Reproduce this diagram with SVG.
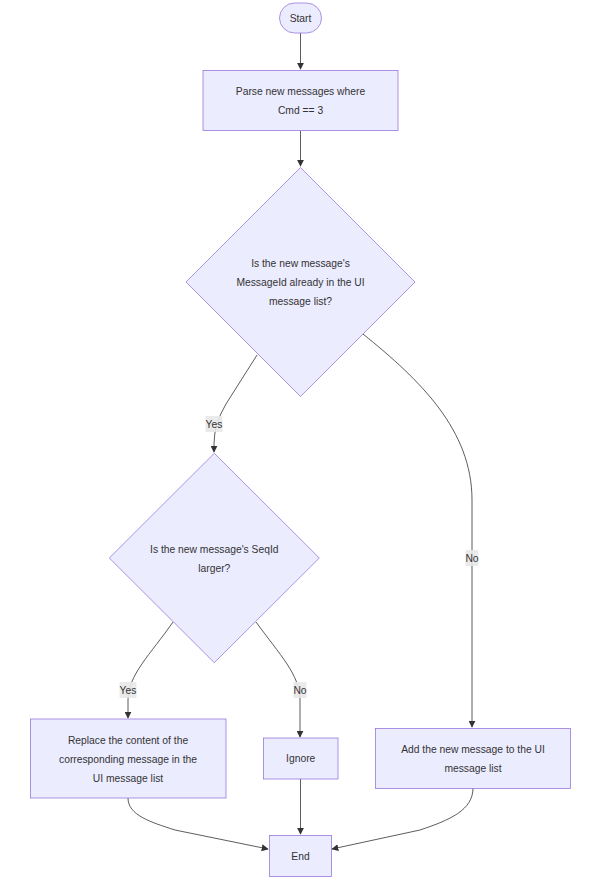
<svg xmlns="http://www.w3.org/2000/svg" width="594" height="893" viewBox="0 0 594 893">
<style>
.n{fill:#ECECFF;stroke:#9370DB;stroke-width:0.75}
.t{font-family:"Liberation Sans",Arial,sans-serif;font-size:10.3px;fill:#333;text-anchor:middle;dominant-baseline:central}
.e{fill:none;stroke:#333;stroke-width:0.8}
.lb{fill:#e8e8e8;opacity:0.9}
</style>
<defs>
<marker id="ah" viewBox="0 0 10 10" refX="9" refY="5" markerWidth="7" markerHeight="7" markerUnits="userSpaceOnUse" orient="auto">
<path d="M0,0 L10,5 L0,10 z" fill="#333"/>
</marker>
</defs>
<rect width="594" height="893" fill="#fff"/>
<g id="edges">
<path class="e" d="M300.5,33 L300.5,69" marker-end="url(#ah)"/>
<path class="e" d="M300.5,131 L300.5,166" marker-end="url(#ah)"/>
<path class="e" d="M257,355 L226,404 Q214,424 214,444 L214,452" marker-end="url(#ah)"/>
<path class="e" d="M363,334 C420,380 472,430 472,500 L472,727" marker-end="url(#ah)"/>
<path class="e" d="M173,622 C150,655 128,675 128,700 L128,718" marker-end="url(#ah)"/>
<path class="e" d="M256,622 C280,655 300,675 300,700 L300,737" marker-end="url(#ah)"/>
<path class="e" d="M300.5,779 L300.5,834" marker-end="url(#ah)"/>
<path class="e" d="M128,798 C128,815 150,822 175,830 L268,849" marker-end="url(#ah)"/>
<path class="e" d="M473,788 C473,810 450,820 420,830 L332,849" marker-end="url(#ah)"/>
</g>
<g id="edge-labels">
<g id="l1"><rect class="lb" x="205.5" y="416" width="17" height="16"/><text class="t" x="214" y="424">Yes</text></g>
<g id="l2"><rect class="lb" x="465.5" y="550" width="13" height="16"/><text class="t" x="472" y="558">No</text></g>
<g id="l3"><rect class="lb" x="119.5" y="682" width="17" height="16"/><text class="t" x="128" y="690">Yes</text></g>
<g id="l4"><rect class="lb" x="293.5" y="682" width="13" height="16"/><text class="t" x="300" y="690">No</text></g>
</g>
<g id="start"><rect class="n" x="279.5" y="3" width="42" height="30" rx="15" ry="15"/><text class="t" x="300.5" y="18">Start</text></g>
<g id="parse"><rect class="n" x="203" y="70.5" width="195" height="60"/><text class="t" x="300.5" y="91">Parse new messages where</text><text class="t" x="300.5" y="110">Cmd == 3</text></g>
<g id="q1"><polygon class="n" points="300.5,167.5 415,282 300.5,396.5 186,282"/><text class="t" x="300.5" y="263.5">Is the new message's</text><text class="t" x="300.5" y="282.5">MessageId already in the UI</text><text class="t" x="300.5" y="301.5">message list?</text></g>
<g id="q2"><polygon class="n" points="214.3,453.3 319.3,558 214.3,662.7 109.3,558"/><text class="t" x="214.3" y="549">Is the new message's SeqId</text><text class="t" x="214.3" y="568">larger?</text></g>
<g id="replace"><rect class="n" x="30.5" y="719" width="195.5" height="79"/><text class="t" x="128" y="740">Replace the content of the</text><text class="t" x="128" y="759">corresponding message in the</text><text class="t" x="128" y="778">UI message list</text></g>
<g id="ignore"><rect class="n" x="263.5" y="738" width="74.5" height="41"/><text class="t" x="300.7" y="758.5">Ignore</text></g>
<g id="add"><rect class="n" x="375.5" y="728.5" width="195" height="60"/><text class="t" x="473" y="749.5">Add the new message to the UI</text><text class="t" x="473" y="768.5">message list</text></g>
<g id="end"><rect class="n" x="269.5" y="835.5" width="62" height="41"/><text class="t" x="300.5" y="856">End</text></g>
</svg>
